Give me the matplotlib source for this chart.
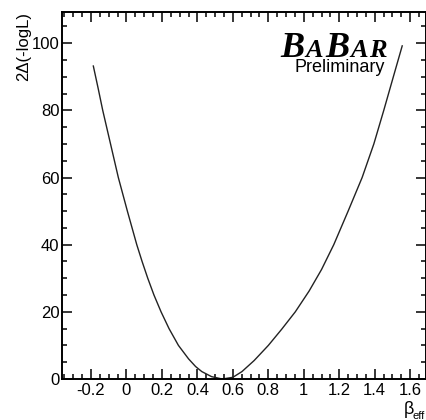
import matplotlib
matplotlib.use("Agg")
import matplotlib.pyplot as plt
from matplotlib.ticker import MultipleLocator, FormatStrFormatter
from matplotlib.offsetbox import TextArea, HPacker, AnnotationBbox

# Likelihood scan: 2*delta(-log L) versus beta_eff
beta_eff = [-0.187, -0.16, -0.134, -0.09, -0.046, 0.005, 0.058, 0.088, 0.12,
            0.155, 0.195, 0.24, 0.293, 0.35, 0.39, 0.425, 0.48, 0.54,
            0.60, 0.651, 0.72, 0.80, 0.875, 0.952, 1.03, 1.10, 1.169,
            1.25, 1.329, 1.395, 1.451, 1.505, 1.555]
two_dlogl = [93.2, 86.6, 80.0, 70.0, 60.0, 50.0, 40.0, 35.0, 30.0,
             25.0, 20.0, 15.0, 10.0, 6.0, 3.7, 2.2, 0.7, 0.0,
             0.5, 2.2, 5.5, 10.0, 14.8, 20.0, 26.2, 32.6, 40.0,
             50.0, 60.0, 70.0, 80.0, 90.0, 99.2]

x_range = (-0.362, 1.692)
y_range = (0.0, 109.2)

W, H = 427, 420
plt.rcParams["font.family"] = ["Liberation Sans", "DejaVu Sans"]
plt.rcParams["axes.unicode_minus"] = False

fig = plt.figure(figsize=(W / 100, H / 100), dpi=100)
ax = fig.add_axes([62.3 / W, (H - 379) / H, (426.5 - 62.3) / W, (379 - 12.3) / H])

ax.plot(beta_eff, two_dlogl, color="#222222", lw=1.0, solid_joinstyle="round")

ax.set_xlim(*x_range)
ax.set_ylim(*y_range)

ax.xaxis.set_major_locator(MultipleLocator(0.2))
ax.xaxis.set_minor_locator(MultipleLocator(0.05))
ax.yaxis.set_major_locator(MultipleLocator(20))
ax.yaxis.set_minor_locator(MultipleLocator(5))
ax.xaxis.set_major_formatter(FormatStrFormatter("%g"))
ax.yaxis.set_major_formatter(FormatStrFormatter("%g"))

for side in ax.spines.values():
    side.set_linewidth(1.4)
ax.tick_params(which="both", direction="in", top=True, right=True,
               width=1.1, labelsize=12)
ax.tick_params(which="major", length=7.2)
ax.tick_params(which="minor", length=3.8)
ax.tick_params(axis="x", pad=3)
ax.tick_params(axis="y", pad=2)


def fx(px):
    return px / W


def fy(py):
    return 1 - py / H


# axis titles
fig.text(fx(24), fy(12), "2\u0394(-logL)", rotation=90, ha="center", va="top",
         fontsize=12)
fig.text(fx(404), fy(413.5), "\u03b2", ha="left", va="baseline", fontsize=13)
fig.text(fx(413), fy(419), "eff", ha="left", va="baseline", fontsize=8)

# experiment logo
logo_parts = [("B", 26), ("A", 19), ("B", 26), ("A", 19), ("R", 19)]
boxes = [TextArea(s, textprops=dict(family="Liberation Serif", weight="bold",
                                    style="italic", size=sz, color="black"))
         for s, sz in logo_parts]
logo = HPacker(children=boxes, align="baseline", pad=0, sep=1)
ab = AnnotationBbox(logo, (387, H - 65), xycoords="figure pixels",
                    box_alignment=(1, 0), frameon=False, pad=0)
fig.add_artist(ab)
fig.text(fx(385), fy(72.5), "Preliminary", ha="right", va="baseline",
         fontsize=13)

fig.savefig("out.png", dpi=100)
